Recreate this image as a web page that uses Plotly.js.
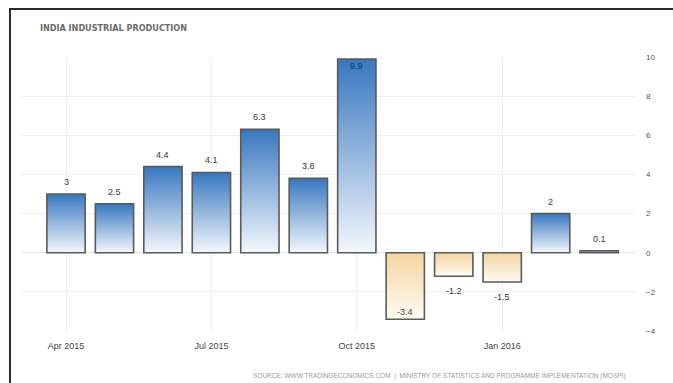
<!DOCTYPE html>
<html>
<head>
<meta charset="utf-8">
<script src="https://cdn.plot.ly/plotly-3.0.1.min.js"></script>
<style>
  html, body { margin:0; padding:0; background:#fff; overflow:hidden; }
  #chart { position:absolute; left:0; top:0; width:673px; height:383px; }
  #frame { position:absolute; left:9px; top:8px; width:700px; height:420px;
           border:2px solid #2b2b2b; pointer-events:none; box-sizing:border-box; }
</style>
</head>
<body>
<div id="chart"></div>
<div id="frame"></div>
<script>
const months = ['Apr 2015','May 2015','Jun 2015','Jul 2015','Aug 2015','Sep 2015',
                'Oct 2015','Nov 2015','Dec 2015','Jan 2016','Feb 2016','Mar 2016'];
const values = [3, 2.5, 4.4, 4.1, 6.3, 3.8, 9.9, -3.4, -1.2, -1.5, 2, 0.1];
const valueLabels = ['3','2.5','4.4','4.1','6.3','3.8','9.9','-3.4','-1.2','-1.5','2','0.1'];
const xTickLabels = ['Apr 2015','Jul 2015','Oct 2015','Jan 2016'];
const yTicks = [-4,-2,0,2,4,6,8,10];

const yMin = -4, yMax = 10;
const idx = months.map((m,i)=>i);
const xTickVals = xTickLabels.map(l => months.indexOf(l));

const trace = {
  type:'bar', x: idx, y: values,
  marker: {color: values.map(v => v>=0 ? '#5b93cf' : '#f6dcae'),
           line:{color:'#5a5a5a', width:1.6}},
  hoverinfo:'none'
};

const labelFont = {family:'Liberation Sans, Arial, sans-serif', size:9, color:'#3a3a3a'};
const valueAnnotations = values.map((v,i) => {
  const inside = (v > yMax - 0.8 || v < yMin + 1);
  let shift;
  if (v >= 0) shift = inside ? -7 : 12;
  else shift = inside ? 7 : -15;
  return {
    x: i, y: v, xref:'x', yref:'y', text: valueLabels[i], showarrow:false,
    yshift: shift, xanchor:'center', yanchor:'middle',
    font: Object.assign({}, labelFont, inside ? {color: v>0 ? '#17365f' : '#444'} : {})
  };
});

const layout = {
  width:673, height:383,
  margin:{l:22, r:38, t:57, b:51.5, pad:0},
  paper_bgcolor:'#fff', plot_bgcolor:'#fff',
  showlegend:false,
  bargap:0.21,
  title:{text:'INDIA INDUSTRIAL PRODUCTION', x:40/673, xref:'container', xanchor:'left',
         y:1-28/383, yref:'container', yanchor:'middle',
         font:{family:'Liberation Sans Narrow, DejaVu Sans Condensed, Arial, sans-serif', size:9, color:'#6a6a6a', weight:'bold'}},
  xaxis:{
    range:[-0.908, 11.74], tickmode:'array', tickvals:xTickVals, ticktext:xTickLabels,
    showgrid:true, gridcolor:'#efefef', gridwidth:1, zeroline:false, showline:false,
    ticks:'', ticklabelstandoff:8,
    tickfont:{family:'Liberation Sans Narrow, Liberation Sans, Arial, sans-serif', size:9, color:'#444'}
  },
  yaxis:{
    range:[yMin, yMax], side:'right', tickmode:'array', tickvals:yTicks,
    showgrid:true, gridcolor:'#efefef', gridwidth:1, zeroline:true, zerolinecolor:'#e6e6e6', zerolinewidth:1,
    showline:false, ticks:'', ticklabelstandoff:10,
    tickfont:{family:'Liberation Sans Narrow, Liberation Sans, Arial, sans-serif', size:8, color:'#555'}
  },
  annotations: valueAnnotations.concat([{
    text:'SOURCE: WWW.TRADINGECONOMICS.COM  |  MINISTRY OF STATISTICS AND PROGRAMME IMPLEMENTATION (MOSPI)',
    xref:'paper', yref:'paper', x:(628-22)/(635-22), y:(331.5-377)/274.5,
    xanchor:'right', yanchor:'middle', showarrow:false,
    font:{family:'Liberation Sans Narrow, Liberation Sans, Arial, sans-serif', size:6.5, color:'#9a9a9a'}
  }])
};

function applyGradients(gd){
  const svg = gd.querySelector('svg.main-svg');
  if(!svg) return;
  const NS = 'http://www.w3.org/2000/svg';
  let defs = svg.querySelector('defs');
  if(!defs){ defs = document.createElementNS(NS,'defs'); svg.insertBefore(defs, svg.firstChild); }
  function grad(id, top, bottom){
    if(svg.querySelector('#'+id)) return;
    const g = document.createElementNS(NS,'linearGradient');
    g.setAttribute('id', id); g.setAttribute('x1','0'); g.setAttribute('y1','0');
    g.setAttribute('x2','0'); g.setAttribute('y2','1');
    [[0,top],[1,bottom]].forEach(([o,c])=>{
      const s = document.createElementNS(NS,'stop');
      s.setAttribute('offset', o); s.setAttribute('stop-color', c);
      g.appendChild(s);
    });
    defs.appendChild(g);
  }
  grad('gpos', '#3777bf', '#f4f8fd');
  grad('gneg', '#f5d5a0', '#fffbf3');
  gd.querySelectorAll('.trace.bars .point path').forEach((p,i)=>{
    p.style.fill = values[i] >= 0 ? 'url(#gpos)' : 'url(#gneg)';
    p.style.fillOpacity = 1;
  });
}

Plotly.newPlot('chart', [trace], layout, {staticPlot:true, displayModeBar:false}).then(gd => {
  applyGradients(gd);
  gd.on('plotly_afterplot', () => applyGradients(gd));
});
</script>
</body>
</html>
